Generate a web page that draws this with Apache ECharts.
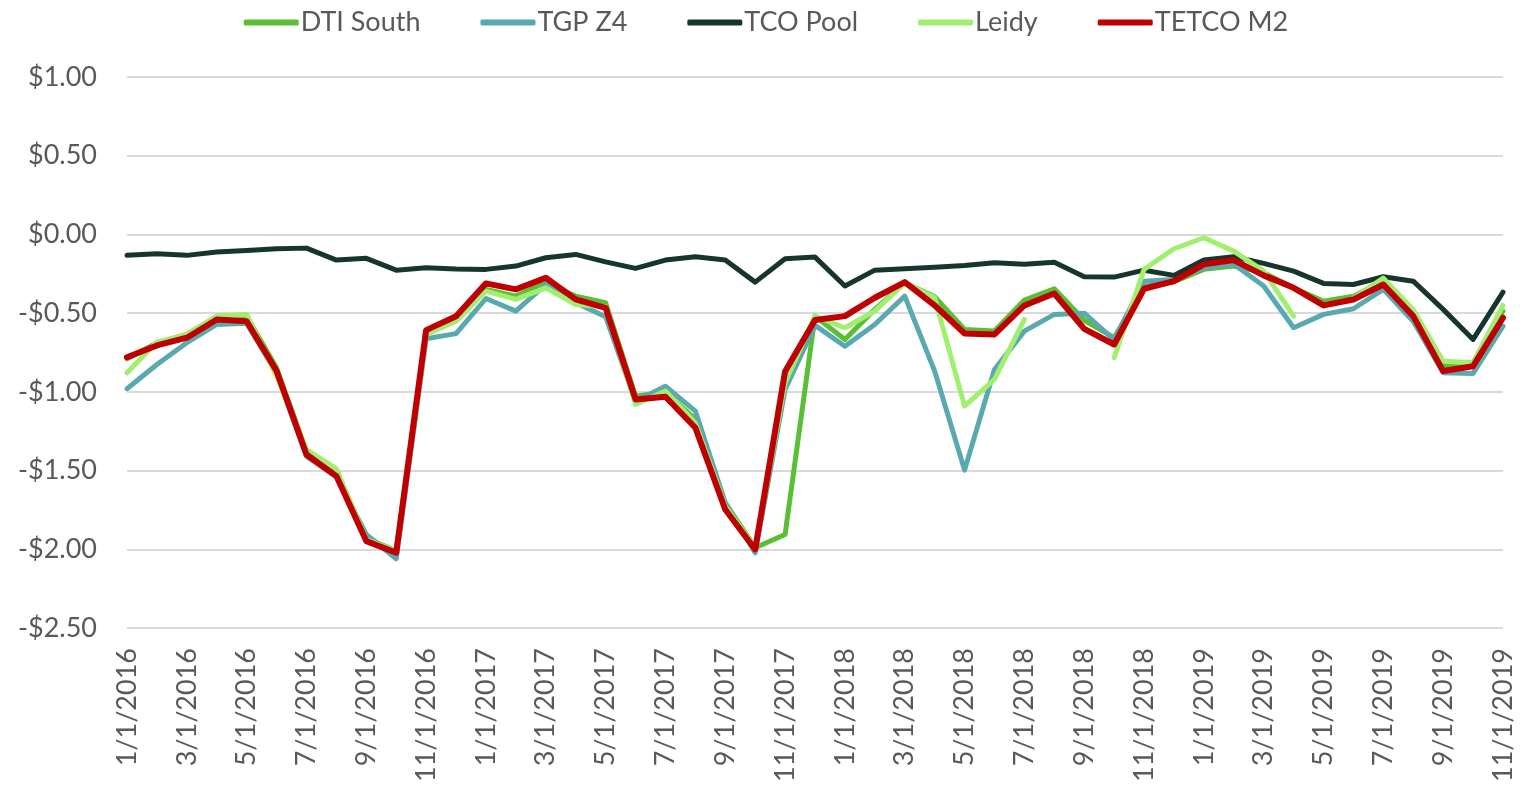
<!DOCTYPE html>
<html>
<head>
<meta charset="utf-8">
<title>Basis prices</title>
<script src="https://cdn.jsdelivr.net/npm/echarts@6/dist/echarts.min.js"></script>
<style>
  html, body { margin: 0; padding: 0; background: #fff; }
  #chart { width: 1532px; height: 787px; }
</style>
</head>
<body>
<div id="chart"></div>
<script>
// monthly categories, 1/1/2016 .. 11/1/2019
const months = [
  '1/1/2016', '2/1/2016', '3/1/2016', '4/1/2016', '5/1/2016', '6/1/2016',
  '7/1/2016', '8/1/2016', '9/1/2016', '10/1/2016', '11/1/2016', '12/1/2016',
  '1/1/2017', '2/1/2017', '3/1/2017', '4/1/2017', '5/1/2017', '6/1/2017',
  '7/1/2017', '8/1/2017', '9/1/2017', '10/1/2017', '11/1/2017', '12/1/2017',
  '1/1/2018', '2/1/2018', '3/1/2018', '4/1/2018', '5/1/2018', '6/1/2018',
  '7/1/2018', '8/1/2018', '9/1/2018', '10/1/2018', '11/1/2018', '12/1/2018',
  '1/1/2019', '2/1/2019', '3/1/2019', '4/1/2019', '5/1/2019', '6/1/2019',
  '7/1/2019', '8/1/2019', '9/1/2019', '10/1/2019', '11/1/2019'
]

const dtiSouth = [
  -0.79, -0.69, -0.635, -0.52, -0.52, -0.847, -1.38, -1.51, -1.93, -2.01, -0.617, -0.53,
  -0.35, -0.392, -0.307, -0.392, -0.434, -1.027, -1.0, -1.175, -1.705, -1.99, -1.906, -0.519,
  -0.667, -0.476, -0.307, -0.396, -0.604, -0.614, -0.417, -0.345, -0.545, -0.656, -0.33, -0.30,
  -0.222, -0.201, -0.243, -0.339, -0.424, -0.392, -0.297, -0.487, -0.837, -0.815, -0.487
]

const tgpZ4 = [
  -0.98, -0.826, -0.688, -0.572, -0.565, -0.88, -1.41, -1.54, -1.906, -2.06, -0.663, -0.63,
  -0.407, -0.487, -0.318, -0.434, -0.523, -1.059, -0.964, -1.122, -1.705, -2.022, -0.985, -0.578,
  -0.71, -0.572, -0.392, -0.868, -1.497, -0.858, -0.614, -0.508, -0.50, -0.67, -0.297, -0.286,
  -0.212, -0.19, -0.328, -0.593, -0.508, -0.472, -0.349, -0.551, -0.879, -0.883, -0.583
]

const tcoPool = [
  -0.133, -0.123, -0.133, -0.112, -0.102, -0.091, -0.087, -0.163, -0.152, -0.227, -0.212, -0.22,
  -0.222, -0.201, -0.148, -0.127, -0.174, -0.216, -0.163, -0.142, -0.163, -0.303, -0.155, -0.144,
  -0.328, -0.227, -0.218, -0.208, -0.197, -0.18, -0.19, -0.176, -0.269, -0.271, -0.227, -0.26,
  -0.163, -0.142, -0.184, -0.233, -0.311, -0.318, -0.269, -0.297, -0.476, -0.667, -0.366
]

const leidy = [
  -0.879, -0.684, -0.635, -0.519, -0.508, -0.90, -1.366, -1.489, -1.938, -2.012, -0.635, -0.551,
  -0.36, -0.413, -0.339, -0.445, -0.46, -1.08, -0.995, -1.197, -1.726, -1.99, -0.942, -0.519,
  -0.593, -0.487, -0.307, -0.402, -1.091, -0.921, -0.54, null, null, -0.783, -0.222, -0.091,
  -0.021, -0.106, -0.233, -0.519, null, -0.405, -0.278, -0.478, -0.805, -0.815, -0.451
]

const tetcoM2 = [
  -0.78, -0.705, -0.656, -0.54, -0.551, -0.868, -1.398, -1.535, -1.948, -2.022, -0.608, -0.52,
  -0.311, -0.349, -0.275, -0.413, -0.466, -1.048, -1.031, -1.228, -1.747, -2.001, -0.87, -0.544,
  -0.519, -0.402, -0.303, -0.451, -0.629, -0.635, -0.451, -0.375, -0.60, -0.699, -0.345, -0.297,
  -0.19, -0.163, -0.26, -0.339, -0.451, -0.413, -0.318, -0.519, -0.868, -0.837, -0.529
]

const textColor = '#595959'
const fontFamily = 'Lato, "Open Sans", sans-serif'

function lineSeries(name, data, color, width) {
  return {
    name: name,
    type: 'line',
    data: data,
    symbol: 'none',
    connectNulls: false,
    animation: false,
    lineStyle: { color: color, width: width, cap: 'round', join: 'round' },
    itemStyle: { color: color }
  }
}

const myChart = echarts.init(document.getElementById('chart'))
const option = {
  backgroundColor: '#fff',
  animation: false,
  textStyle: { fontFamily: fontFamily },
  legend: {
    top: 4,
    left: 'center',
    icon: 'roundRect',
    itemWidth: 55,
    itemHeight: 6,
    itemGap: 60,
    textStyle: { color: textColor, fontSize: 27, fontFamily: fontFamily, padding: [0, 0, 0, -3] },
    data: ['DTI South', 'TGP Z4', 'TCO Pool', 'Leidy', 'TETCO M2']
  },
  grid: {
    left: 127,
    right: 29,
    top: 77,
    bottom: 159
  },
  xAxis: {
    type: 'category',
    data: months,
    boundaryGap: false,
    axisLine: { show: false },
    axisTick: { show: false },
    axisLabel: {
      interval: 1,
      rotate: 90,
      margin: 20,
      color: textColor,
      fontSize: 27,
      fontFamily: fontFamily
    },
    splitLine: { show: false }
  },
  yAxis: {
    type: 'value',
    min: -2.5,
    max: 1,
    interval: 0.5,
    axisLine: { show: false },
    axisTick: { show: false },
    axisLabel: {
      margin: 30,
      color: textColor,
      fontSize: 27,
      fontFamily: fontFamily,
      formatter: v => (v < 0 ? '-' : '') + '$' + Math.abs(v).toFixed(2)
    },
    splitLine: { lineStyle: { color: '#d9d9d9', width: 2 } }
  },
  series: [
    lineSeries('DTI South', dtiSouth, '#5bbf35', 5),
    lineSeries('TGP Z4', tgpZ4, '#5aa9b0', 5),
    lineSeries('TCO Pool', tcoPool, '#17362b', 5),
    lineSeries('Leidy', leidy, '#a0ef6e', 5),
    lineSeries('TETCO M2', tetcoM2, '#c00000', 6)
  ]
}
myChart.setOption(option)
window.addEventListener('resize', () => myChart.resize(), false)
</script>
</body>
</html>
